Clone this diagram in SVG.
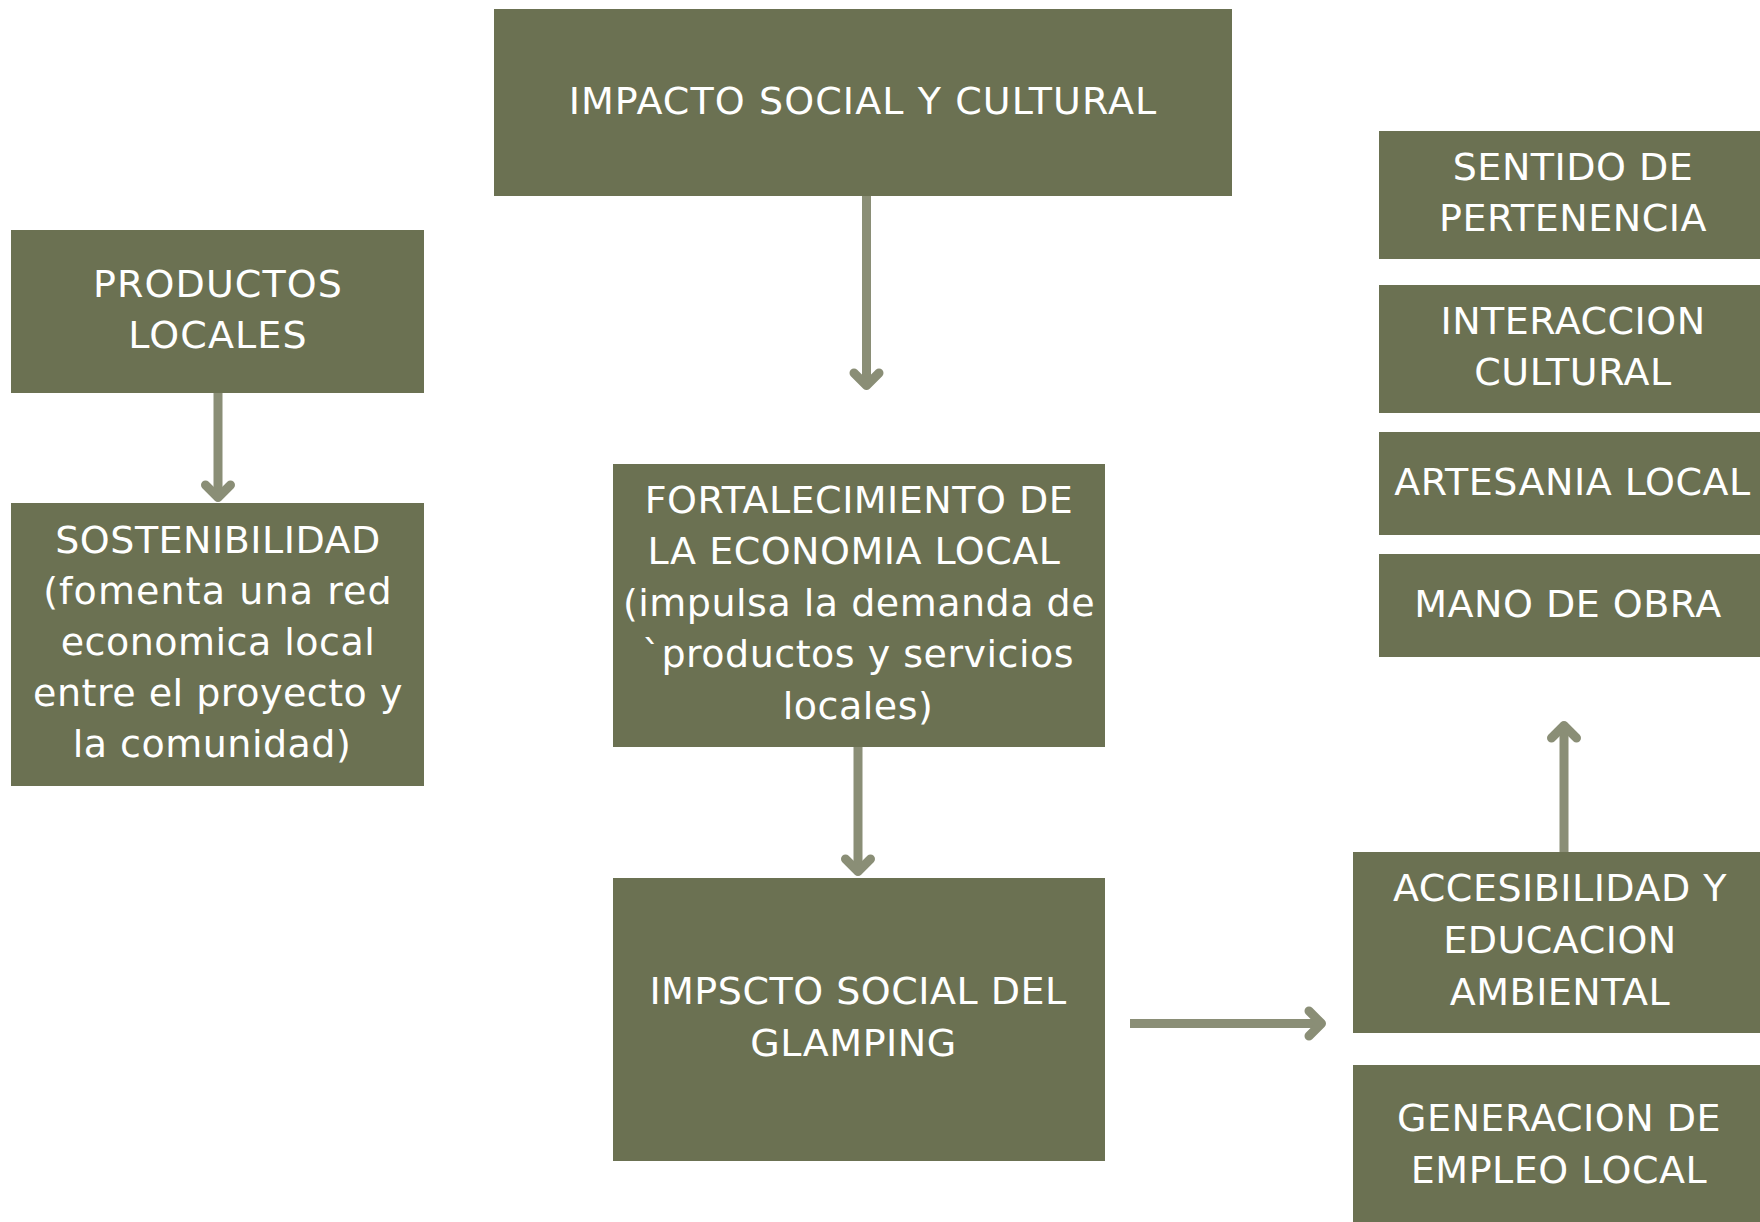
<svg xmlns="http://www.w3.org/2000/svg" width="1760" height="1222" viewBox="0 0 1760 1222">
<style>
.box{fill:#6b7152}
.t{font-family:"DejaVu Sans","Liberation Sans",sans-serif;font-size:38px;fill:#ffffff;text-anchor:middle;letter-spacing:0.5px}
.w{letter-spacing:1.1px}
.c{fill:none;stroke:#8a8e76;stroke-width:9;stroke-linecap:round;stroke-linejoin:round}
.s{fill:none;stroke:#8a8e76;stroke-width:9;stroke-linecap:butt}
</style>
<rect width="1760" height="1222" fill="#ffffff"/>
<g id="connectors">
<line class="s" x1="218" y1="392" x2="218" y2="497"/>
<polyline class="c" points="205.5,485 218,497.5 230.5,485"/>
<line class="s" x1="866.5" y1="195" x2="866.5" y2="385"/>
<polyline class="c" points="854,373 866.5,385.5 879,373"/>
<line class="s" x1="858" y1="746" x2="858" y2="871"/>
<polyline class="c" points="845.5,859 858,871.5 870.5,859"/>
<line class="s" x1="1130" y1="1023.5" x2="1321" y2="1023.5"/>
<polyline class="c" points="1309,1011 1321.5,1023.5 1309,1036"/>
<line class="s" x1="1564" y1="852" x2="1564" y2="726"/>
<polyline class="c" points="1551.5,738 1564,725.5 1576.5,738"/>
</g>
<g id="impacto">
<rect class="box" x="494" y="9" width="738" height="187"/>
<text class="t w" x="863" y="114">IMPACTO SOCIAL Y CULTURAL</text>
</g>
<g id="productos">
<rect class="box" x="11" y="230" width="413" height="163"/>
<text class="t w" x="218" y="296.5">PRODUCTOS</text>
<text class="t w" x="218" y="347.5">LOCALES</text>
</g>
<g id="sostenibilidad">
<rect class="box" x="11" y="503" width="413" height="283"/>
<text class="t" x="218" y="552.5">SOSTENIBILIDAD</text>
<text class="t w" x="218" y="603.5">(fomenta una red</text>
<text class="t" x="218" y="654.5">economica local</text>
<text class="t" x="218" y="705.5">entre el proyecto y</text>
<text class="t" x="212" y="756.5">la comunidad)</text>
</g>
<g id="fortalecimiento">
<rect class="box" x="613" y="464" width="492" height="283"/>
<text class="t" x="859" y="512.5">FORTALECIMIENTO DE</text>
<text class="t" x="854" y="564">LA ECONOMIA LOCAL</text>
<text class="t" x="859" y="615.5">(impulsa la demanda de</text>
<text class="t" x="858" y="667">`productos y servicios</text>
<text class="t" x="858" y="718.5">locales)</text>
</g>
<g id="impscto">
<rect class="box" x="613" y="878" width="492" height="283"/>
<text class="t" x="858" y="1004">IMPSCTO SOCIAL DEL</text>
<text class="t" x="853.5" y="1056">GLAMPING</text>
</g>
<g id="sentido">
<rect class="box" x="1379" y="131" width="381" height="128"/>
<text class="t" x="1573" y="180">SENTIDO DE</text>
<text class="t" x="1573" y="231">PERTENENCIA</text>
</g>
<g id="interaccion">
<rect class="box" x="1379" y="285" width="381" height="128"/>
<text class="t" x="1573" y="333.5">INTERACCION</text>
<text class="t" x="1573" y="385">CULTURAL</text>
</g>
<g id="artesania">
<rect class="box" x="1379" y="432" width="381" height="103"/>
<text class="t" x="1572.5" y="495">ARTESANIA LOCAL</text>
</g>
<g id="mano">
<rect class="box" x="1379" y="554" width="381" height="103"/>
<text class="t" x="1568" y="616.5">MANO DE OBRA</text>
</g>
<g id="accesibilidad">
<rect class="box" x="1353" y="852" width="407" height="181"/>
<text class="t" x="1560" y="900.5">ACCESIBILIDAD Y</text>
<text class="t" x="1560" y="952.5">EDUCACION</text>
<text class="t" x="1560" y="1004.5">AMBIENTAL</text>
</g>
<g id="generacion">
<rect class="box" x="1353" y="1065" width="407" height="157"/>
<text class="t" x="1559" y="1131">GENERACION DE</text>
<text class="t" x="1559" y="1182.5">EMPLEO LOCAL</text>
</g>
</svg>
